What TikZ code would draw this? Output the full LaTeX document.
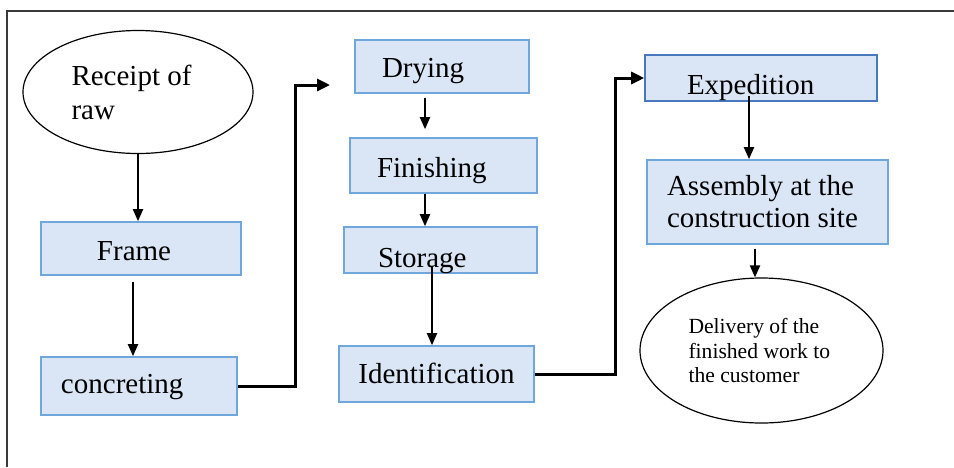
\documentclass[tikz,border=0pt]{standalone}
\usepackage{fontspec}
\setmainfont{Liberation Serif}
\usetikzlibrary{arrows.meta, shapes.geometric}
\definecolor{boxfill}{HTML}{DAE6F5}
\definecolor{boxline}{HTML}{6FA6DC}
\definecolor{boxdark}{HTML}{4A78BE}
\definecolor{rule}{HTML}{3A3A3A}
\tikzset{
  stage/.style={draw=boxline, fill=boxfill, line width=0.8pt, align=flush left,
                font=\fontsize{14.5}{16}\selectfont, inner ysep=0pt},
  sink/.style={text height=#1, text depth=0pt},
  oval/.style={ellipse, draw=black, line width=0.6pt, inner sep=0pt, align=flush left},
  arr/.style={-{Triangle[length=6pt,width=5pt]}, line width=1pt},
  elbow/.style={-{Triangle[length=6.5pt,width=6pt]}, line width=1.5pt},
}

\begin{document}
\begin{tikzpicture}[x=0.5pt, y=-0.5pt]
\useasboundingbox (0,0) rectangle (954,467);
\draw[rule, line width=0.8pt] (7,467) -- (7,11) -- (954,11);

% first column
\node[oval, minimum width=115pt, minimum height=61.5pt, text width=66.5pt, font=\fontsize{14.5}{17}\selectfont] (receipt) at (138,92) {Receipt of\\raw};
\node[stage, sink=11.5pt, minimum height=26.5pt, inner xsep=28pt, text width=44pt] (frame) at (141,248.5) {Frame};
\node[stage, sink=7pt, minimum height=29pt, inner xsep=10pt, text width=78pt] (conc) at (139,386) {concreting};

% second column
\node[stage, sink=10.5pt, minimum height=26.5pt, inner xsep=13.5pt, text width=60pt] (drying) at (442,66.5) {Drying};
\node[stage, sink=11.5pt, minimum height=27.5pt, inner xsep=13.5pt, text width=66.5pt] (finish) at (443.5,165.5) {Finishing};
\node[stage, sink=17pt, minimum height=23pt, inner xsep=17pt, text width=62.5pt] (storage) at (440.5,250) {Storage};
\node[stage, sink=9pt, minimum height=28pt, inner xsep=0pt, minimum width=97.5pt] (ident) at (436.5,374) {Identification};

% third column
\node[stage, draw=boxdark, sink=16pt, minimum height=23pt, inner xsep=21pt, text width=74pt] (exped) at (761,78) {Expedition};
\node[stage, minimum height=42pt, inner xsep=10pt, text width=100.5pt] (assembly) at (767.5,202) {Assembly at the\\construction site};
\node[oval, minimum width=121.5pt, minimum height=72.5pt, text width=73pt, font=\fontsize{10.8}{12.25}\selectfont] (deliver) at (761.5,350.5) {Delivery of the\\finished work to\\the customer};

% arrows down each column
\draw[arr] (receipt.south) -- (receipt.south |- frame.north);
\draw[arr, shorten <=3pt] ([xshift=-4pt]frame.south) -- ([xshift=-3pt]conc.north);
\draw[arr, shorten <=2pt, shorten >=4pt] ([xshift=-8.5pt]drying.south) -- ([xshift=-9.25pt]finish.north);
\draw[arr] ([xshift=-9.25pt]finish.south) -- ([xshift=-7.75pt]storage.north);
\draw[arr, shorten <=-4pt] ([xshift=-4.25pt]storage.south) -- ([xshift=-2.25pt]ident.north);
\draw[arr, shorten <=-3pt] ([xshift=-6pt]exped.south) -- ([xshift=-9.25pt]assembly.north);
\draw[arr, shorten <=2pt] ([xshift=-6.25pt]assembly.south) -- ([xshift=-3.25pt]deliver.north);

% links between the columns
\coordinate (dryin) at (330,85);
\draw[elbow] (conc.east) -| ([xshift=-17.5pt]dryin) -- (dryin);
\draw[elbow] (ident.east) -- ++(81,0) |- (exped.west);
\end{tikzpicture}
\end{document}
